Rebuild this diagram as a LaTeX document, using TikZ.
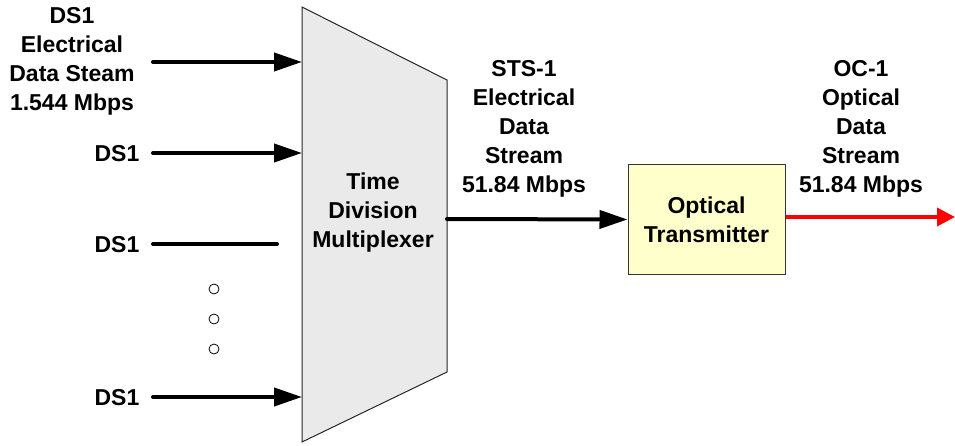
\documentclass[tikz,border=0pt]{standalone}
\usepackage{fontspec}
\setmainfont{Liberation Sans}
\usetikzlibrary{arrows.meta}
\definecolor{muxfill}{HTML}{EAEAEA}
\definecolor{txfill}{HTML}{FFFFCC}
\definecolor{optred}{HTML}{FF0000}
\begin{document}
\begin{tikzpicture}[x=1pt,y=-1pt,
  lbl/.style={font=\fontsize{23}{29}\selectfont\bfseries, align=center, inner sep=0pt},
  feed/.style={line width=4pt, line cap=round, -{Triangle[length=28pt,width=18pt]}},
  stub/.style={line width=4pt, line cap=round},
  optline/.style={line width=3.5pt, draw=optred, -{Triangle[length=18pt,width=18pt]}},
  dotmark/.style={circle, draw, line width=0.8pt, minimum size=10pt, inner sep=0pt},
  txbox/.style={draw=black!80, line width=1pt, fill=txfill, minimum width=157pt,
                minimum height=109pt, inner sep=0pt, lbl}]
\useasboundingbox (0,0) rectangle (955,446);

% multiplexer body
\draw[fill=muxfill, draw=black!85, line width=1pt]
  (302,7) -- (447,80) -- (447,372) -- (302,442) -- cycle;
\node[lbl] (muxtext) at (373,213) {Time\\Division\\Multiplexer};

% input and output points on the multiplexer
\coordinate (m1) at (302,62);
\coordinate (m2) at (302,153);
\coordinate (m4) at (302,397);
\coordinate (mo) at (447,219);

% tributary inputs
\coordinate (s1) at (153,62);
\coordinate (s2) at (153,153);
\coordinate (s3) at (153,244);
\coordinate (e3) at (277,244);
\coordinate (s4) at (153,397);
\draw[feed] (s1) -- (m1);
\draw[feed] (s2) -- (m2);
\draw[stub] (s3) -- (e3);
\draw[feed] (s4) -- (m4);

\node[lbl] (ds1a) at (72,61) {DS1\\Electrical\\Data Steam\\1.544 Mbps};
\node[lbl] (ds1b) at (117,154) {DS1};
\node[lbl] (ds1c) at (117,245) {DS1};
\node[lbl] (ds1d) at (117,398) {DS1};

\node[dotmark] (d1) at (214,289) {};
\node[dotmark] (d2) at (214,319) {};
\node[dotmark] (d3) at (214,349) {};

% optical transmitter
\node[txbox] (tx) at (706.5,219.5) {Optical\\Transmitter};
\draw[feed] (mo) -- (tx.west);
\node[lbl] (sts) at (524,129) {STS-1\\Electrical\\Data\\Stream\\51.84 Mbps};

% optical output
\coordinate (rend) at (955,217);
\draw[optline] (tx.east |- rend) -- (rend);
\node[lbl] (oc) at (861,129) {OC-1\\Optical\\Data\\Stream\\51.84 Mbps};
\end{tikzpicture}
\end{document}
